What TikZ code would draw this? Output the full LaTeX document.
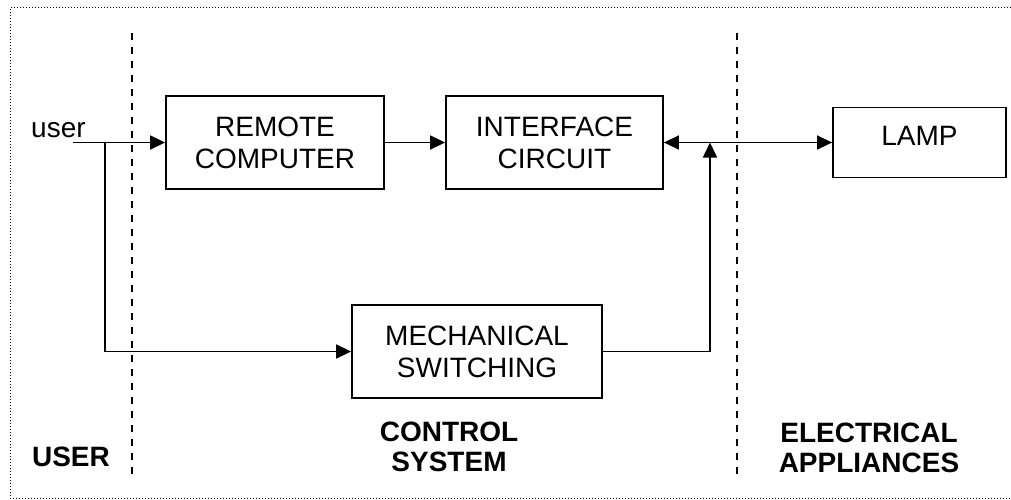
\documentclass[tikz,border=0pt]{standalone}
\usepackage{fontspec}
\setmainfont{Liberation Sans}
\usetikzlibrary{arrows.meta}

\begin{document}
\begin{tikzpicture}[x=1pt, y=-1pt,
    blockbox/.style={draw, line width=1.8pt, align=center, inner sep=0pt,
        font=\fontsize{28}{32}\selectfont},
    regionlabel/.style={align=center, inner sep=0pt,
        font=\fontsize{28}{30}\selectfont\bfseries},
    flow/.style={line width=1.6pt, -{Triangle[length=15pt, width=14pt]}},
    twoway/.style={line width=1.6pt,
        {Triangle[length=15pt, width=14pt]}-{Triangle[length=15pt, width=14pt]}},
    divider/.style={line width=1.5pt, dash pattern=on 7pt off 7pt},
    frame/.style={line width=1pt, dash pattern=on 1pt off 2pt}]

    \useasboundingbox (0,0) rectangle (1011,500);

    % Outer frame and region dividers
    \draw[frame] (1011,8) -- (10,8) -- (10,498) -- (1011,498);
    \draw[divider] (132,33) -- (132,474);
    \draw[divider] (737,33) -- (737,474);

    % Blocks
    \node[blockbox, minimum width=218pt, minimum height=93pt] (remote) at (275,142.5) {REMOTE\\COMPUTER};
    \node[blockbox, minimum width=217pt, minimum height=93pt] (interface) at (554.5,142.5) {INTERFACE\\CIRCUIT};
    \node[blockbox, minimum width=173pt, minimum height=70pt, text depth=14pt] (lamp) at (919.5,142.5) {LAMP};
    \node[blockbox, minimum width=250pt, minimum height=93pt] (mech) at (477,351.5) {MECHANICAL\\SWITCHING};

    % User input
    \node[font=\fontsize{28}{32}\selectfont, anchor=base west, inner sep=0pt] (user) at (31,138) {user};
    \coordinate (userin) at (73,142.5);
    \coordinate (split) at (105,142.5);
    \coordinate (join) at (710,142.5);

    % Connections
    \draw[flow] (userin) -- (remote.west);
    \draw[flow] (split) |- (mech.west);
    \draw[flow] (remote.east) -- (interface.west);
    \draw[twoway] (interface.east) -- (lamp.west);
    \draw[flow] (mech.east) -| (join);

    % Region labels
    \node[regionlabel] (userzone) at (71,457) {USER};
    \node[regionlabel] (controlzone) at (449,447) {CONTROL\\SYSTEM};
    \node[regionlabel] (appliancezone) at (869,448) {ELECTRICAL\\APPLIANCES};
\end{tikzpicture}
\end{document}
